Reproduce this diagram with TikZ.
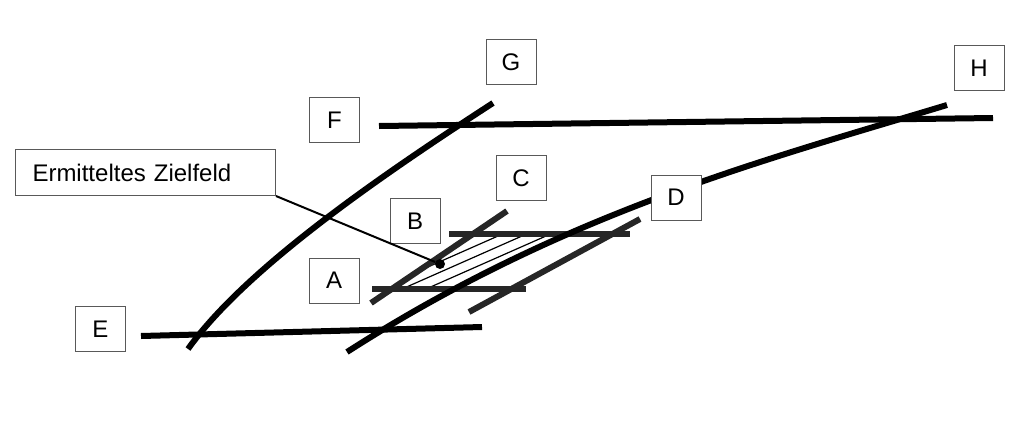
\documentclass[tikz,border=0pt]{standalone}
\usepackage{fontspec}
\setmainfont{Liberation Sans}
\usepackage{tikz}
\usetikzlibrary{positioning}

\begin{document}
\begin{tikzpicture}[x=0.75pt, y=-0.75pt]
\tikzstyle{tagbox} = [rectangle, draw=black!65, fill=white, line width=0.75pt, minimum width=37.5pt, minimum height=33.75pt, inner sep=0pt, font=\fontsize{18}{20}\selectfont]
\tikzstyle{track} = [line width=4.5pt, black]
\tikzstyle{rail} = [line width=4.5pt, black!85]

\useasboundingbox (0,0) rectangle (1024,429);

% schraffiertes Zielfeld
\begin{scope}
\clip (392,289) -- (473,234) -- (558,234) -- (453,289) -- cycle;
\foreach \x in {0,...,4}
  \draw[line width=0.9pt] ({378+\x*24},289) -- ++(120,-53);
\end{scope}

\draw[rail] (449,234) -- (630,234);
\draw[rail] (372,289) -- (526,289);
\draw[rail] (371,303) -- (507,211);
\draw[rail] (469,312) -- (640,219);

\draw[track] (141,336) -- (482,327);
\draw[track] (379,126) -- (993,118);
\draw[track] (188,349) .. controls (248,265) and (393,168) .. (493,103);
\draw[track] (347,352) .. controls (565,212) and (765,160) .. (947,105);

\node[tagbox] (E) at (100.5,329) {E};
\node[tagbox] (F) at (334.5,120) {F};
\node[tagbox] (G) at (511,62) {G};
\node[tagbox] (H) at (979,68) {H};
\node[tagbox] (A) at (334,280.5) {A};
\node[tagbox] (B) at (415,221) {B};
\node[tagbox] (C) at (521,178) {C};
\node[tagbox] (D) at (676,197.5) {D};

\node[tagbox, anchor=north west, minimum height=34.5pt, text width=169.5pt, inner xsep=12.75pt, align=left] (zf) at (15,149) {Ermitteltes Zielfeld};
\node[circle, fill=black, inner sep=0pt, minimum size=7.5pt] (ziel) at (440,264) {};
\draw[line width=1.5pt] (zf.south east) -- (ziel);

\end{tikzpicture}
\end{document}
